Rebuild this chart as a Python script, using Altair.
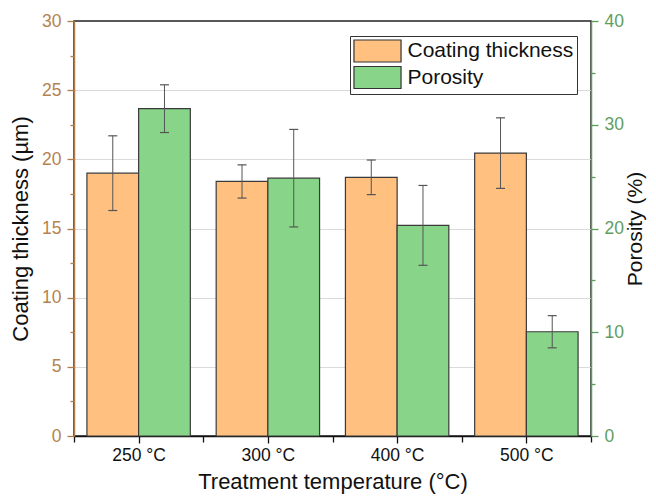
import altair as alt
import pandas as pd

categories = ["250 °C", "300 °C", "400 °C", "500 °C"]
thickness = [19.0, 18.4, 18.7, 20.45]
thickness_err = [2.7, 1.2, 1.25, 2.55]
porosity = [31.55, 24.85, 20.3, 10.05]
porosity_err = [2.3, 4.7, 3.85, 1.55]
series = ["Coating thickness", "Porosity"]
colors = ["#FFC080", "#88D488"]

idx = list(range(1, len(categories) + 1))
df_t = pd.DataFrame({"idx": idx, "cat": categories, "value": thickness,
                     "err": thickness_err, "series": series[0], "side": -1})
df_p = pd.DataFrame({"idx": idx, "cat": categories, "value": porosity,
                     "err": porosity_err, "series": series[1], "side": 0})

FONT = "Liberation Sans"
LEFT_C = "#B07C4C"
LEFT_LBL = "#B5834F"
RIGHT_C = "#5E9A5E"
RIGHT_LBL = "#5E9E5E"

label_expr = ""
for i, c in enumerate(categories):
    label_expr += "datum.value === %d ? '%s' : " % (i + 1, c)
label_expr += "''"

xscale = alt.Scale(domain=[0.5, 4.5], nice=False, zero=False)
x_axis = alt.Axis(
    values=[0.5, 1, 1.5, 2, 2.5, 3, 3.5, 4, 4.5],
    labelExpr=label_expr,
    tickSize={"condition": {"test": "datum.value % 1 === 0", "value": 7}, "value": 6},
    domainColor="#111", tickColor="#111", domainWidth=1.5, tickWidth=1.3,
    labelColor="#111", labelPadding=3, titlePadding=8, grid=False,
    labelFontSize=17.5, titleFontSize=22, titleColor="#111",
)
x_title = "Treatment temperature (°C)"

yscale_t = alt.Scale(domain=[0, 30], nice=False, zero=True)
y_axis_t = alt.Axis(
    orient="left",
    values=[i * 2.5 for i in range(13)],
    labelExpr="datum.value % 5 === 0 ? datum.label : ''",
    tickSize={"condition": {"test": "datum.value % 5 === 0", "value": 7}, "value": 4},
    domainColor=LEFT_C, tickColor=LEFT_C, labelColor=LEFT_LBL, domainWidth=1.5, tickWidth=1.3,
    grid=True, gridColor="#DADADA", gridWidth=1,
    gridOpacity={"condition": {"test": "datum.value % 5 === 0 && datum.value > 0 && datum.value < 30", "value": 1}, "value": 0},
    labelPadding=6, titlePadding=9, titleColor="#111",
    labelFontSize=17.5, titleFontSize=22,
)

yscale_p = alt.Scale(domain=[0, 40], nice=False, zero=True)
y_axis_p = alt.Axis(
    orient="right",
    values=[i * 5 for i in range(9)],
    labelExpr="datum.value % 10 === 0 ? datum.label : ''",
    tickSize={"condition": {"test": "datum.value % 10 === 0", "value": 7}, "value": 4},
    domainColor=RIGHT_C, tickColor=RIGHT_C, labelColor=RIGHT_LBL, domainWidth=1.5, tickWidth=1.3,
    grid=False, labelPadding=6, titlePadding=1, titleColor="#111",
    titleAngle=270, titleBaseline="top",
    labelFontSize=17.5, titleFontSize=21,
)

legend = alt.Legend(
    orient="none", legendX=276, legendY=15, title=None,
    symbolType="M-2.14,-1H2.14V1H-2.14Z", symbolSize=484,
    symbolStrokeColor="#333", symbolStrokeWidth=1.2, symbolOpacity=1,
    strokeColor="#333", fillColor="white", padding=3, rowPadding=-1.5,
    labelFontSize=21, labelFont=FONT, labelColor="#111", labelLimit=400,
    symbolOffset=12.5, labelOffset=18,
)
color_enc = alt.Color("series:N", scale=alt.Scale(domain=series, range=colors), legend=legend)


def layers(df, yscale, yaxis, ytitle):
    base = alt.Chart(df).transform_calculate(
        x0="datum.idx + datum.side * 0.4",
        x1="datum.idx + datum.side * 0.4 + 0.4",
        cx="datum.idx + datum.side * 0.4 + 0.2",
        lo="datum.value - datum.err",
        hi="datum.value + datum.err",
        zero="0",
    )
    bars = base.mark_bar(stroke="#3a3a3a", strokeWidth=1.2, opacity=1).encode(
        x=alt.X("x0:Q", scale=xscale, axis=x_axis, title=x_title),
        x2="x1:Q",
        y=alt.Y("value:Q", scale=yscale, axis=yaxis, title=ytitle),
        y2="zero:Q",
        color=color_enc,
    )
    err = base.mark_rule(color="#555555", strokeWidth=1).encode(
        x=alt.X("cx:Q", scale=xscale, axis=x_axis, title=x_title),
        y=alt.Y("lo:Q", scale=yscale, axis=None),
        y2="hi:Q",
    )
    caps = base.transform_fold(["lo", "hi"], as_=["end", "yv"]).mark_rule(
        color="#555555", strokeWidth=1.2, xOffset=-4.5, x2Offset=4.5
    ).encode(
        x=alt.X("cx:Q", scale=xscale, axis=x_axis, title=x_title),
        x2="cx:Q",
        y=alt.Y("yv:Q", scale=yscale, axis=None),
    )
    return [bars, err, caps]


lt = layers(df_t, yscale_t, y_axis_t, "Coating thickness (µm)")
rt = layers(df_p, yscale_p, y_axis_p, "Porosity (%)")

chart = alt.layer(*(lt + rt)).resolve_scale(y="independent").properties(
    width=517, height=415,
    autosize=alt.AutoSizeParams(type="none"),
    padding={"left": 66, "top": 13, "right": 57, "bottom": 58},
).configure(font=FONT).configure_view(
    stroke="#222", strokeWidth=1.5
).configure_axis(
    labelFont=FONT, titleFont=FONT, titleFontWeight="normal"
)

chart.save("out.html", embed_options={"renderer": "svg", "actions": False})
